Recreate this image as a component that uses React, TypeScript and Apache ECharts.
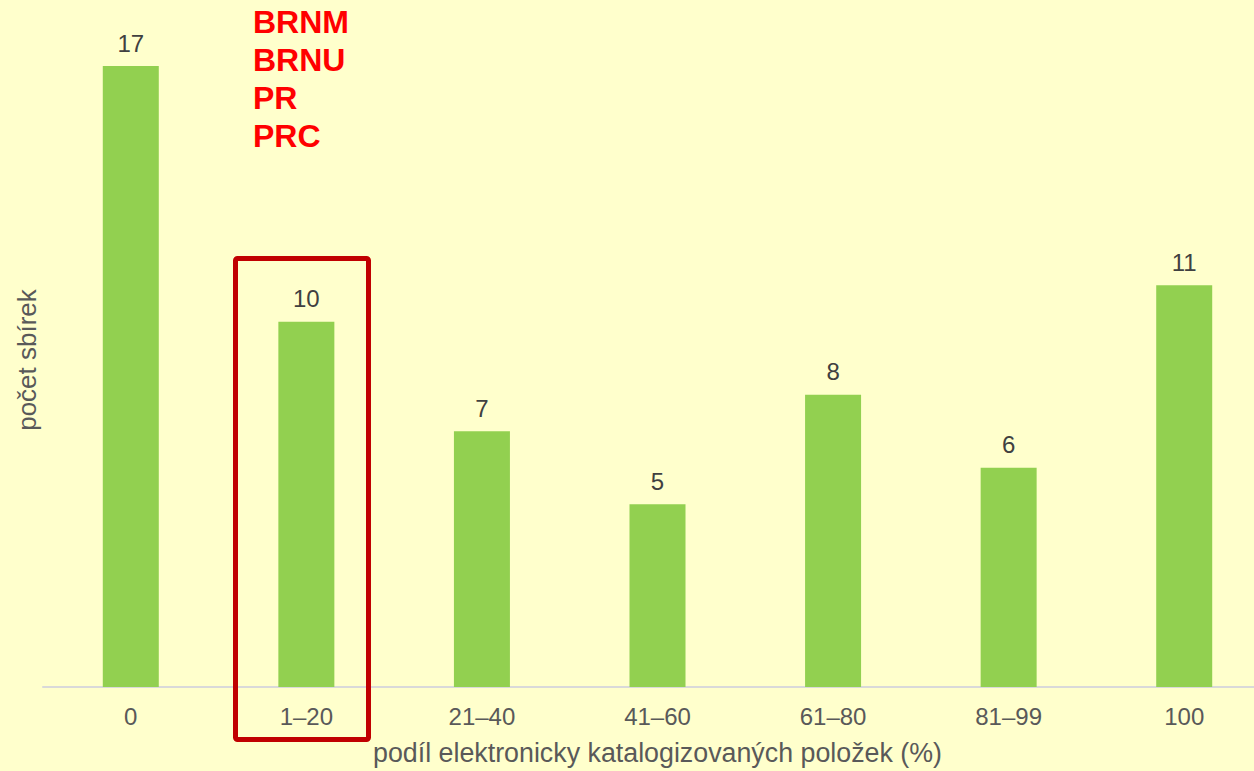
import React, { useEffect, useRef } from "react";
import * as echarts from "echarts";

const categories = ["0", "1–20", "21–40", "41–60", "61–80", "81–99", "100"];
const counts = [17, 10, 7, 5, 8, 6, 11];
const highlightedCodes = ["BRNM", "BRNU", "PR", "PRC"];
const xAxisTitle = "podíl elektronicky katalogizovaných položek (%)";
const yAxisTitle = "počet sbírek";

export default function App() {
  const ref = useRef<HTMLDivElement>(null);
  useEffect(() => {
    if (!ref.current) return;
    const chart = echarts.init(ref.current, undefined, { renderer: "svg" });
    const font = "'Liberation Sans', Arial, sans-serif";
    chart.setOption({
      animation: false,
      backgroundColor: "#FFFFCC",
      textStyle: { fontFamily: font },
      grid: { left: 43, right: 0, top: 66, bottom: 83, containLabel: false },
      xAxis: {
        type: "category",
        data: categories,
        axisLine: { lineStyle: { color: "#D9D9D9", width: 2 } },
        axisTick: { show: false },
        axisLabel: { color: "#595959", fontSize: 24, margin: 17, fontFamily: font },
        name: xAxisTitle,
        nameLocation: "middle",
        nameGap: 52,
        nameTextStyle: { color: "#595959", fontSize: 26.8, fontFamily: font },
      },
      yAxis: {
        type: "value",
        min: 0,
        max: 17,
        show: false,
      },
      series: [
        {
          type: "bar",
          data: counts,
          barWidth: 56,
          itemStyle: { color: "#92D050" },
          label: {
            show: true,
            position: "top",
            distance: 11,
            color: "#404040",
            fontSize: 24,
            fontFamily: font,
          },
        },
      ],
      graphic: [
        {
          type: "text",
          x: 27,
          y: 360,
          rotation: Math.PI / 2,
          style: {
            text: yAxisTitle,
            fill: "#595959",
            fontSize: 26,
            fontFamily: font,
            align: "center",
            verticalAlign: "middle",
          },
        },
        {
          type: "rect",
          shape: { x: 235.5, y: 258.5, width: 133, height: 481, r: 2 },
          style: { fill: "none", stroke: "#C00000", lineWidth: 5 },
          z: 10,
        },
        ...highlightedCodes.map((code, i) => ({
          type: "text",
          x: 253,
          y: 22 + i * 38,
          style: {
            text: code,
            fill: "#FF0000",
            fontSize: 32,
            fontWeight: "bold",
            fontFamily: font,
            align: "left",
            verticalAlign: "middle",
          },
          z: 10,
        })),
      ],
    });
    return () => chart.dispose();
  }, []);
  return (
    <div
      style={{
        position: "fixed",
        left: 0,
        top: 0,
        width: 1254,
        height: 771,
        overflow: "hidden",
        background: "#FFFFCC",
      }}
    >
      <div ref={ref} style={{ width: 1272, height: 771 }} />
    </div>
  );
}
